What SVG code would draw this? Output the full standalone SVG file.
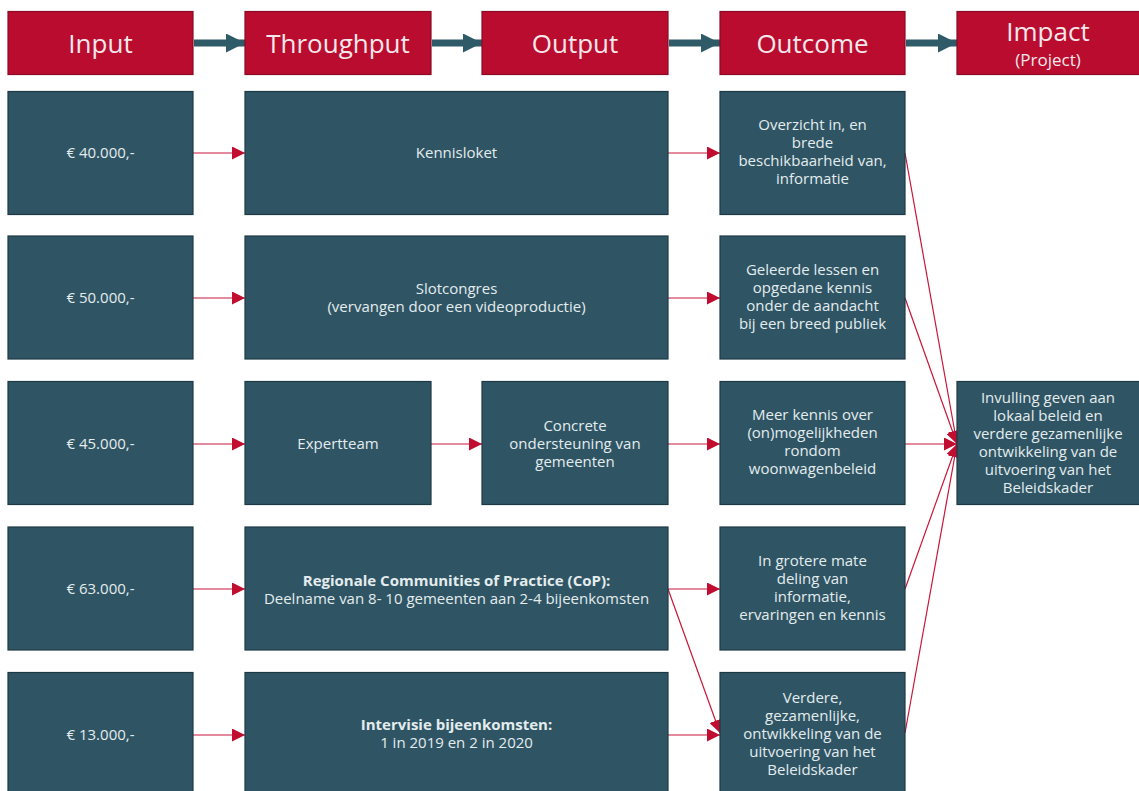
<svg xmlns="http://www.w3.org/2000/svg" width="1139" height="791" viewBox="0 0 1139 791">
<defs>
<style>
.hdr{fill:#ba0c2f;stroke:#8a0a25;stroke-width:1.2}
.box{fill:#2f5564;stroke:#1d3944;stroke-width:1.2}
.ht{font-family:"Open Sans","Liberation Sans",sans-serif;font-size:26px;fill:#f4e8eb;text-anchor:middle}
.hs{font-family:"Open Sans","Liberation Sans",sans-serif;font-size:17px;fill:#f4e8eb;text-anchor:middle}
.t{font-family:"Open Sans","Liberation Sans",sans-serif;font-size:15px;fill:#e4ecee;text-anchor:middle}
.b{font-weight:bold}
.red{stroke:#c8163a;stroke-width:1.2;fill:none;marker-end:url(#ra)}
.big{stroke:#2f5a68;stroke-width:7;fill:none;marker-end:url(#ba)}
</style>
<marker id="ra" markerUnits="userSpaceOnUse" markerWidth="13" markerHeight="13" refX="12" refY="6" orient="auto" viewBox="0 0 12 12">
<path d="M0,0 L12,6 L0,12 z" fill="#c00d30"/>
</marker>
<marker id="ba" markerUnits="userSpaceOnUse" markerWidth="19" markerHeight="19" refX="18" refY="9" orient="auto" viewBox="0 0 18 18">
<path d="M0,0 L18,9 L0,18 z" fill="#2f5a68"/>
</marker>
</defs>
<rect width="1139" height="791" fill="#ffffff"/>

<g id="connectors">
<line class="big" x1="194" y1="43" x2="245" y2="43"/>
<line class="big" x1="432" y1="43" x2="482" y2="43"/>
<line class="big" x1="669" y1="43" x2="720" y2="43"/>
<line class="big" x1="906" y1="43" x2="957" y2="43"/>

<line class="red" x1="193" y1="153" x2="245" y2="153"/>
<line class="red" x1="668" y1="153" x2="720" y2="153"/>
<line class="red" x1="193" y1="298" x2="245" y2="298"/>
<line class="red" x1="668" y1="298" x2="720" y2="298"/>
<line class="red" x1="193" y1="444" x2="245" y2="444"/>
<line class="red" x1="431" y1="444" x2="482" y2="444"/>
<line class="red" x1="668" y1="444" x2="720" y2="444"/>
<line class="red" x1="193" y1="589" x2="245" y2="589"/>
<line class="red" x1="668" y1="589" x2="720" y2="589"/>
<line class="red" x1="668" y1="589" x2="720" y2="733"/>
<line class="red" x1="193" y1="735" x2="245" y2="735"/>
<line class="red" x1="668" y1="735" x2="720" y2="735"/>

<line class="red" x1="905" y1="153" x2="957" y2="444"/>
<line class="red" x1="905" y1="298" x2="957" y2="444"/>
<line class="red" x1="905" y1="444" x2="957" y2="444"/>
<line class="red" x1="905" y1="589" x2="957" y2="444"/>
<line class="red" x1="905" y1="733" x2="957" y2="444"/>
</g>

<g id="h-input"><rect class="hdr" x="8" y="11.5" width="185" height="63"/><text class="ht" x="100.5" y="53">Input</text></g>
<g id="h-throughput"><rect class="hdr" x="245" y="11.5" width="186" height="63"/><text class="ht" x="338" y="53">Throughput</text></g>
<g id="h-output"><rect class="hdr" x="482" y="11.5" width="186" height="63"/><text class="ht" x="575" y="53">Output</text></g>
<g id="h-outcome"><rect class="hdr" x="720" y="11.5" width="185" height="63"/><text class="ht" x="812.5" y="53">Outcome</text></g>
<g id="h-impact"><rect class="hdr" x="957" y="11.5" width="184" height="63"/><text class="ht" x="1048" y="41">Impact</text><text class="hs" x="1048" y="66">(Project)</text></g>

<g id="in1"><rect class="box" x="8" y="91.5" width="185" height="123"/><text class="t" x="100.5" y="158">€ 40.000,-</text></g>
<g id="in2"><rect class="box" x="8" y="236" width="185" height="123"/><text class="t" x="100.5" y="303">€ 50.000,-</text></g>
<g id="in3"><rect class="box" x="8" y="381.5" width="185" height="123"/><text class="t" x="100.5" y="449">€ 45.000,-</text></g>
<g id="in4"><rect class="box" x="8" y="527" width="185" height="123"/><text class="t" x="100.5" y="594">€ 63.000,-</text></g>
<g id="in5"><rect class="box" x="8" y="672.5" width="185" height="130"/><text class="t" x="100.5" y="740">€ 13.000,-</text></g>

<g id="tp1"><rect class="box" x="245" y="91.5" width="423" height="123"/><text class="t" x="456.5" y="158">Kennisloket</text></g>
<g id="tp2"><rect class="box" x="245" y="236" width="423" height="123"/><text class="t" x="456.5" y="294">Slotcongres</text><text class="t" x="456.5" y="312">(vervangen door een videoproductie)</text></g>
<g id="tp3a"><rect class="box" x="245" y="381.5" width="186" height="123"/><text class="t" x="338" y="449">Expertteam</text></g>
<g id="tp3b"><rect class="box" x="482" y="381.5" width="186" height="123"/><text class="t" x="575" y="431">Concrete</text><text class="t" x="575" y="449">ondersteuning van</text><text class="t" x="575" y="467">gemeenten</text></g>
<g id="tp4"><rect class="box" x="245" y="527" width="423" height="123"/><text class="t b" x="456.5" y="586">Regionale Communities of Practice (CoP):</text><text class="t" x="456.5" y="604">Deelname van 8- 10 gemeenten aan 2-4 bijeenkomsten</text></g>
<g id="tp5"><rect class="box" x="245" y="672.5" width="423" height="130"/><text class="t b" x="456.5" y="730">Intervisie bijeenkomsten:</text><text class="t" x="456.5" y="748">1 in 2019 en 2 in 2020</text></g>

<g id="oc1"><rect class="box" x="720" y="91.5" width="185" height="123"/><text class="t" x="812.5" y="130">Overzicht in, en</text><text class="t" x="812.5" y="148">brede</text><text class="t" x="812.5" y="166">beschikbaarheid van,</text><text class="t" x="812.5" y="184">informatie</text></g>
<g id="oc2"><rect class="box" x="720" y="236" width="185" height="123"/><text class="t" x="812.5" y="275">Geleerde lessen en</text><text class="t" x="812.5" y="293">opgedane kennis</text><text class="t" x="812.5" y="311">onder de aandacht</text><text class="t" x="812.5" y="329">bij een breed publiek</text></g>
<g id="oc3"><rect class="box" x="720" y="381.5" width="185" height="123"/><text class="t" x="812.5" y="420">Meer kennis over</text><text class="t" x="812.5" y="438">(on)mogelijkheden</text><text class="t" x="812.5" y="456">rondom</text><text class="t" x="812.5" y="474">woonwagenbeleid</text></g>
<g id="oc4"><rect class="box" x="720" y="527" width="185" height="123"/><text class="t" x="812.5" y="566">In grotere mate</text><text class="t" x="812.5" y="584">deling van</text><text class="t" x="812.5" y="602">informatie,</text><text class="t" x="812.5" y="620">ervaringen en kennis</text></g>
<g id="oc5"><rect class="box" x="720" y="672.5" width="185" height="130"/><text class="t" x="812.5" y="703">Verdere,</text><text class="t" x="812.5" y="721">gezamenlijke,</text><text class="t" x="812.5" y="739">ontwikkeling van de</text><text class="t" x="812.5" y="757">uitvoering van het</text><text class="t" x="812.5" y="775">Beleidskader</text></g>

<g id="impact"><rect class="box" x="957" y="381.5" width="184" height="123"/><text class="t" x="1048" y="403">Invulling geven aan</text><text class="t" x="1048" y="421">lokaal beleid en</text><text class="t" x="1048" y="439">verdere gezamenlijke</text><text class="t" x="1048" y="457">ontwikkeling van de</text><text class="t" x="1048" y="475">uitvoering van het</text><text class="t" x="1048" y="493">Beleidskader</text></g>
</svg>
